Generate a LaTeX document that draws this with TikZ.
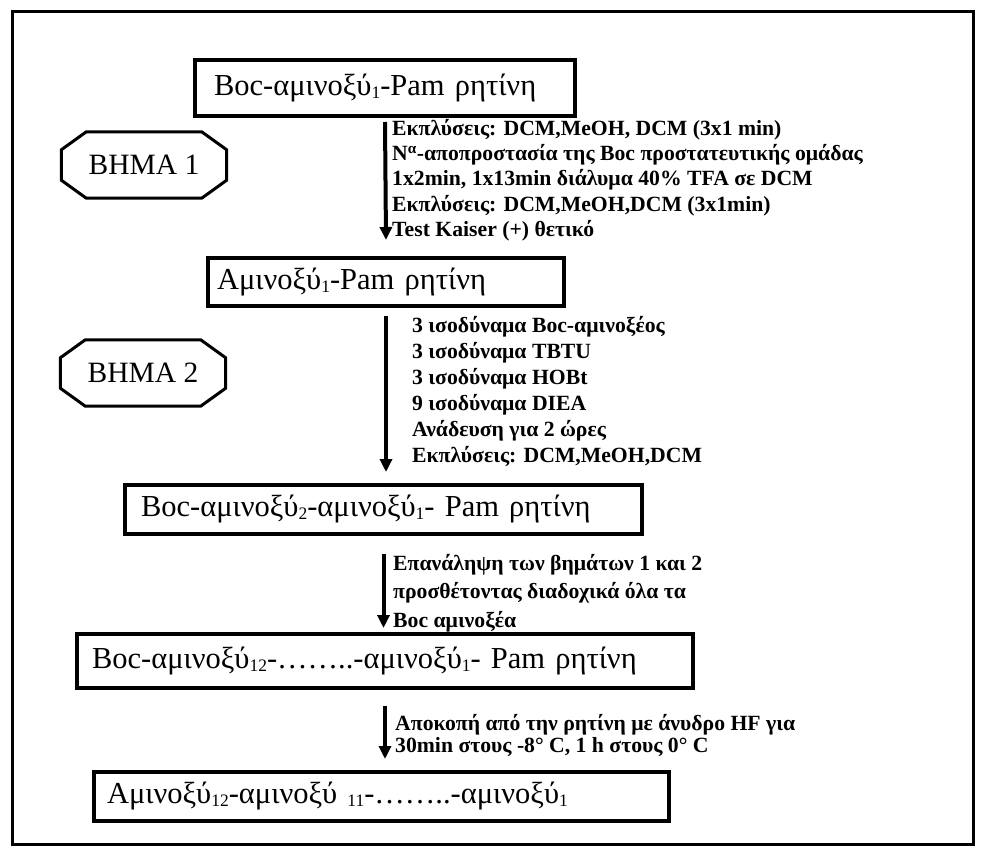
\documentclass[tikz,border=0pt]{standalone}
\usepackage{fontspec}
\setmainfont{Liberation Serif}
\usetikzlibrary{positioning,arrows.meta}
% small lowered index after an amino acid
\newcommand{\idx}[1]{\raisebox{-3pt}{\fontsize{17.5}{17.5}\selectfont #1}}
\tikzset{
stage/.style={
draw,
line width=4pt,
anchor=north west,
align=left,
font=\fontsize{30.5}{33}\selectfont
},
stepbox/.style={
minimum width=165pt,
minimum height=66pt,
inner sep=0pt,
font=\fontsize{29.5}{32}\selectfont
},
note/.style={
anchor=north west,
align=left,
inner sep=0pt,
font=\bfseries\fontsize{21.7}{25.3}\selectfont
},
arrow/.style={
-{Triangle[length=13pt,width=12pt]},
line width=4pt
}
}

\begin{document}
\begin{tikzpicture}[x=1pt,y=-1pt]
\path[fill=white,use as bounding box](0,0)rectangle(982,850);
\draw[line width=3pt](12,12)rectangle(973,844);

% the five stages of the synthesis
\node[stage,text width=342pt,inner xsep=19pt,minimum height=56pt](b1)at(193,58){Boc-αμινοξύ\idx{1}-Pam ρητίνη};
\node[stage,text width=338pt,inner xsep=9pt,minimum height=48pt](b2)at(206,256){Αμινοξύ\idx{1}-Pam ρητίνη};
\node[stage,text width=485pt,inner xsep=16pt,minimum height=49pt](b3)at(123,483){Boc-αμινοξύ\idx{2}-αμινοξύ\idx{1}- Pam ρητίνη};
\node[stage,text width=586pt,inner xsep=15pt,minimum height=54pt](b4)at(75,632){Boc-αμινοξύ\idx{12}-……..-αμινοξύ\idx{1}- Pam ρητίνη};
\node[stage,text width=549pt,inner xsep=13pt,minimum height=49pt](b5)at(92,770){Αμινοξύ\idx{12}-αμινοξύ \idx{11}-……..-αμινοξύ\idx{1}};

% step labels, drawn as octagons
\node[stepbox](s1)at(144,165){BHMA 1};
\node[stepbox](s2)at(143,373){BHMA 2};
\foreach \s in {s1,s2}{
\draw[line width=3pt]([xshift=25pt]\s.north west)--([xshift=-25pt]\s.north east)
--([yshift=-18pt]\s.north east)--([yshift=18pt]\s.south east)
--([xshift=-25pt]\s.south east)--([xshift=25pt]\s.south west)
--([yshift=18pt]\s.south west)--([yshift=-18pt]\s.north west)--cycle;
}

\draw[arrow]([yshift=-4pt]b1.south)--([yshift=16pt]b2.north);
\draw[arrow]([yshift=-8pt]b2.south)--([yshift=11pt]b2.south|-b3.north);
\draw[arrow]([yshift=-18pt]b3.south)--([yshift=4pt]b3.south|-b4.north);
\draw[arrow]([yshift=-16pt]b4.south)--([yshift=11pt]b4.south|-b5.north);

% conditions beside each arrow
\node[note](n1)at(392,119){Εκπλύσεις: DCM,MeOH, DCM (3x1 min)\\
N\textsuperscript{α}-αποπροστασία της Boc προστατευτικής ομάδας\\
1x2min, 1x13min διάλυμα 40\% TFA σε DCM\\
Εκπλύσεις: DCM,MeOH,DCM (3x1min)\\
Test Kaiser (+) θετικό};
\node[note,font=\bfseries\fontsize{21.7}{26}\selectfont](n2)at(412,316){3 ισοδύναμα Boc-αμινοξέος\\
3 ισοδύναμα TBTU\\
3 ισοδύναμα HOBt\\
9 ισοδύναμα DIEA\\
Ανάδευση για 2 ώρες\\
Εκπλύσεις: DCM,MeOH,DCM};
\node[note,font=\bfseries\fontsize{21.7}{28.5}\selectfont](n3)at(393,554){Επανάληψη των βημάτων 1 και 2\\
προσθέτοντας διαδοχικά όλα τα\\
Boc αμινοξέα};
\node[note,font=\bfseries\fontsize{21.7}{22}\selectfont](n4)at(395,714){Αποκοπή από την ρητίνη με άνυδρο HF για\\
30min στους -8° C, 1 h στους 0° C};
\end{tikzpicture}
\end{document}
